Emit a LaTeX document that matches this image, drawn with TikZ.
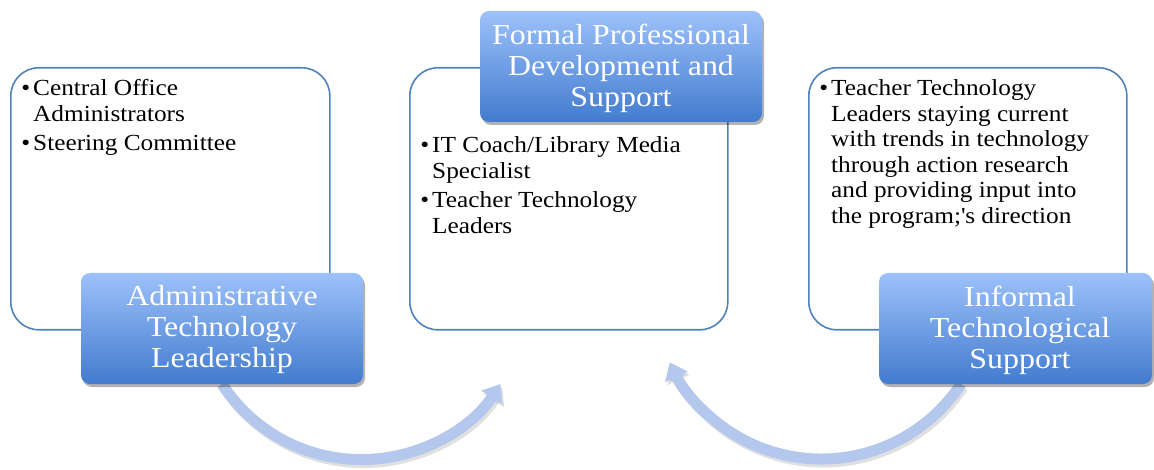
\documentclass[tikz,border=0pt]{standalone}
\usepackage{fontspec}
\setmainfont{Liberation Serif}[FakeStretch=1.1]
\usetikzlibrary{shadows,arrows.meta}
\definecolor{outl}{RGB}{79,129,189}
\definecolor{gtop}{RGB}{157,193,250}
\definecolor{gbot}{RGB}{66,123,206}
\definecolor{arr}{RGB}{180,200,238}
\begin{document}
\begin{tikzpicture}[x=1pt,y=-1pt,
  wbox/.style={draw=outl, line width=1.6pt, fill=white, rounded corners=28pt, inner sep=0pt, anchor=north west},
  bbox/.style={rounded corners=9pt, top color=gtop, bottom color=gbot, inner sep=0pt,
    drop shadow={shadow xshift=2pt, shadow yshift=-3pt, opacity=0.3, fill=black},
    minimum width=282pt, minimum height=111pt},
  btext/.style={text=white, font=\fontsize{29}{31}\selectfont, align=center, inner sep=0pt},
  wtext/.style={font=\fontsize{23}{25.5}\selectfont, anchor=base west, inner sep=0pt},
  bul/.style={font=\fontsize{23}{25.5}\selectfont, anchor=base east, inner sep=0pt},
  arrw/.style={line width=11pt, draw=arr, -{Triangle[width=24pt,length=16pt]}},
  arrsh/.style={line width=11pt, draw=black, opacity=0.12, -{Triangle[width=24pt,length=16pt]},
    transform canvas={shift={(2pt,-3pt)}}}]
\useasboundingbox (0,0) rectangle (1154,470);

\path (222,328.5) coordinate (adminc);
\path (621,66.5) coordinate (formalc);
\path (1015.5,328.5) coordinate (infoc);

% connectors (arcs)
\coordinate (a1s) at (222,384);
\coordinate (a2s) at (961,384);
\draw[arrsh] (a1s) arc[start angle=147, end angle=33, radius=166];
\draw[arrsh] (a2s) arc[start angle=33.5, end angle=155, radius=167.4];
\draw[arrw] (a1s) arc[start angle=147, end angle=33, radius=166];
\draw[arrw] (a2s) arc[start angle=33.5, end angle=155, radius=167.4];

% white boxes
\node[wbox, minimum width=319pt, minimum height=262pt] (lw) at (10,67) {};
\node[wbox, minimum width=318pt, minimum height=262pt] (mw) at (409,67) {};
\node[wbox, minimum width=318pt, minimum height=262pt] (rw) at (808,67) {};

% blue boxes
\node[bbox] (admin) at (adminc) {};
\node[bbox] (formal) at (formalc) {};
\node[bbox, minimum width=273pt] (info) at (infoc) {};

% blue box texts
\node[btext] (admint) at (222,330) {Administrative\\Technology\\Leadership};
\node[btext] (formalt) at (621,68) {Formal Professional\\Development and\\Support};
\node[btext] (infot) at (1020,330) {Informal\\Technological\\Support};

% left list
\node[bul] (lb1) at (30.5,96) {•};
\node[wtext] (lt1) at (33,96) {\begin{tabular}[t]{@{}l@{}}Central Office\\Administrators\end{tabular}};
\node[bul] (lb2) at (30.5,150.7) {•};
\node[wtext] (lt2) at (33,150.7) {Steering Committee};

% middle list
\node[bul] (mb1) at (429.5,153) {•};
\node[wtext] (mt1) at (432,153) {\begin{tabular}[t]{@{}l@{}}IT Coach/Library Media\\Specialist\end{tabular}};
\node[bul] (mb2) at (429.5,208) {•};
\node[wtext] (mt2) at (432,208) {\begin{tabular}[t]{@{}l@{}}Teacher Technology\\Leaders\end{tabular}};

% right list
\node[bul] (rb1) at (828.5,96) {•};
\node[wtext] (rt1) at (831,96) {\begin{tabular}[t]{@{}l@{}}Teacher Technology\\Leaders staying current\\with trends in technology\\through action research\\and providing input into\\the program;\textquotesingle s direction\end{tabular}};
\end{tikzpicture}
\end{document}
